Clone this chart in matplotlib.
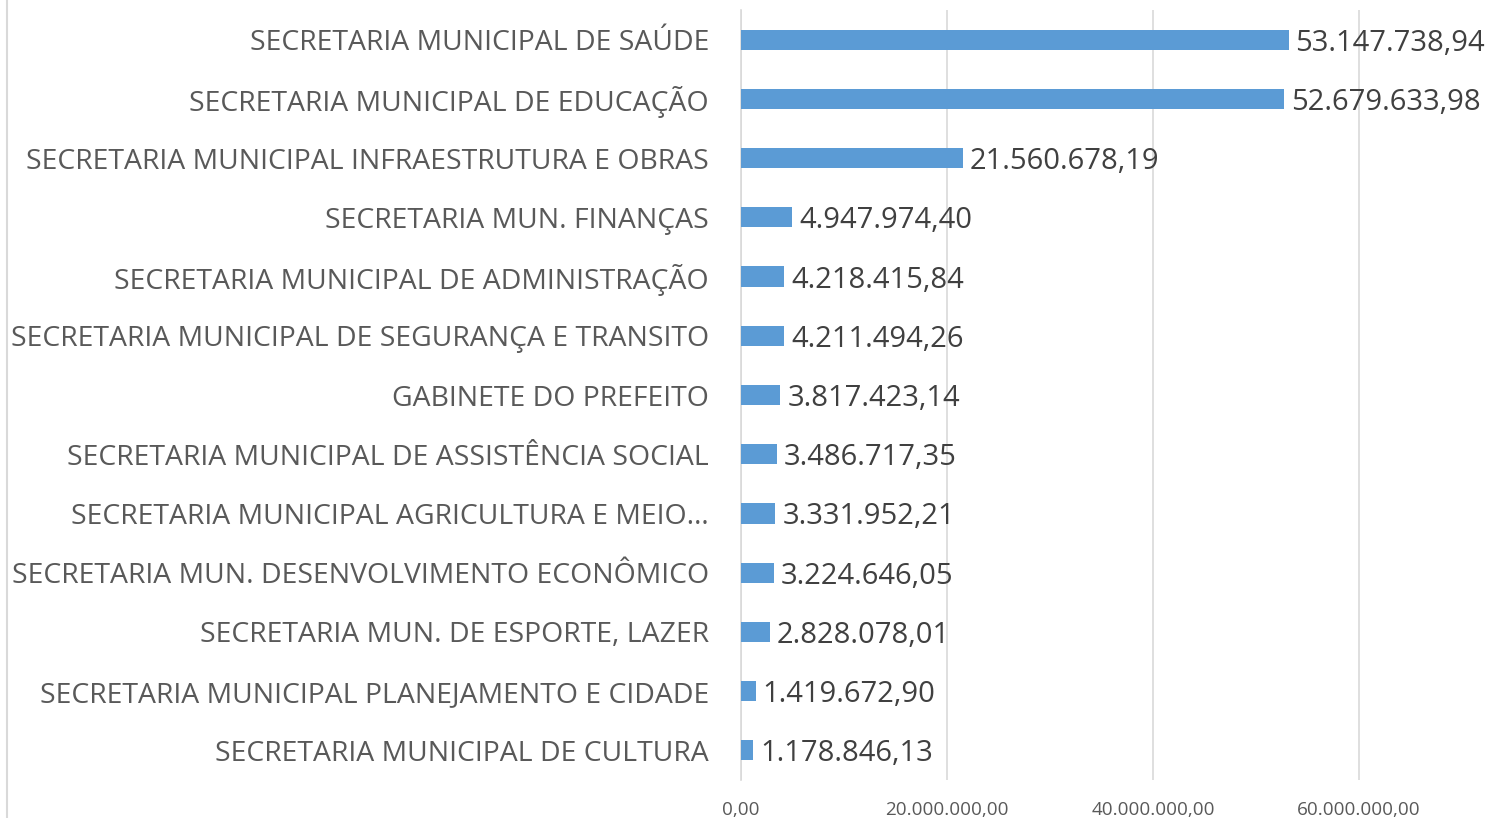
import matplotlib
matplotlib.use("Agg")
import matplotlib.pyplot as plt
from matplotlib.lines import Line2D

categories = [
    "SECRETARIA MUNICIPAL DE SAÚDE",
    "SECRETARIA MUNICIPAL DE EDUCAÇÃO",
    "SECRETARIA MUNICIPAL INFRAESTRUTURA E OBRAS",
    "SECRETARIA MUN. FINANÇAS",
    "SECRETARIA MUNICIPAL DE ADMINISTRAÇÃO",
    "SECRETARIA MUNICIPAL DE SEGURANÇA E TRANSITO",
    "GABINETE DO PREFEITO",
    "SECRETARIA MUNICIPAL DE ASSISTÊNCIA SOCIAL",
    "SECRETARIA MUNICIPAL AGRICULTURA E MEIO…",
    "SECRETARIA MUN. DESENVOLVIMENTO ECONÔMICO",
    "SECRETARIA MUN. DE ESPORTE, LAZER",
    "SECRETARIA MUNICIPAL PLANEJAMENTO E CIDADE",
    "SECRETARIA MUNICIPAL DE CULTURA",
]
values = [53147738.94, 52679633.98, 21560678.19, 4947974.40, 4218415.84,
          4211494.26, 3817423.14, 3486717.35, 3331952.21, 3224646.05,
          2828078.01, 1419672.90, 1178846.13]
tick_values = [0, 20000000, 40000000, 60000000]


def br(v):
    s = f"{v:,.2f}"
    return s.replace(",", "X").replace(".", ",").replace("X", ".")


W, H = 1490, 818
fig = plt.figure(figsize=(W / 100, H / 100), dpi=100)
ax = fig.add_axes([741 / W, 1 - 780 / H, 1 - 741 / W, 770 / H])

font = "Open Sans"
y = list(range(len(categories)))
ax.barh(y, values, height=0.34, color="#5B9BD5", zorder=3)
ax.set_ylim(len(categories) - 0.5, -0.5)
ax.set_xlim(0, 72.7e6)

ax.set_yticks(y)
ax.set_yticklabels(categories, fontname=font, fontsize=20.4, color="#595959")
ax.set_xticks(tick_values)
ax.set_xticklabels([br(t) for t in tick_values], fontname=font, fontsize=13.6,
                   color="#595959")
ax.tick_params(axis="y", length=0, pad=23)
ax.tick_params(axis="x", length=0, pad=15)

for yi, v in zip(y, values):
    ax.annotate(br(v), (v, yi), xytext=(5, -2.5), textcoords="offset points",
                va="center", ha="left", fontname=font, fontsize=21,
                color="#404040")

ax.grid(axis="x", color="#D9D9D9", linewidth=1.2, zorder=0)
for s in ["top", "right", "bottom"]:
    ax.spines[s].set_visible(False)
ax.spines["left"].set_color("#D9D9D9")
ax.spines["left"].set_linewidth(1.2)

fig.add_artist(Line2D([7 / W, 7 / W], [0, 1], color="#D9D9D9", linewidth=1.5))

fig.savefig("out.png", dpi=100)
